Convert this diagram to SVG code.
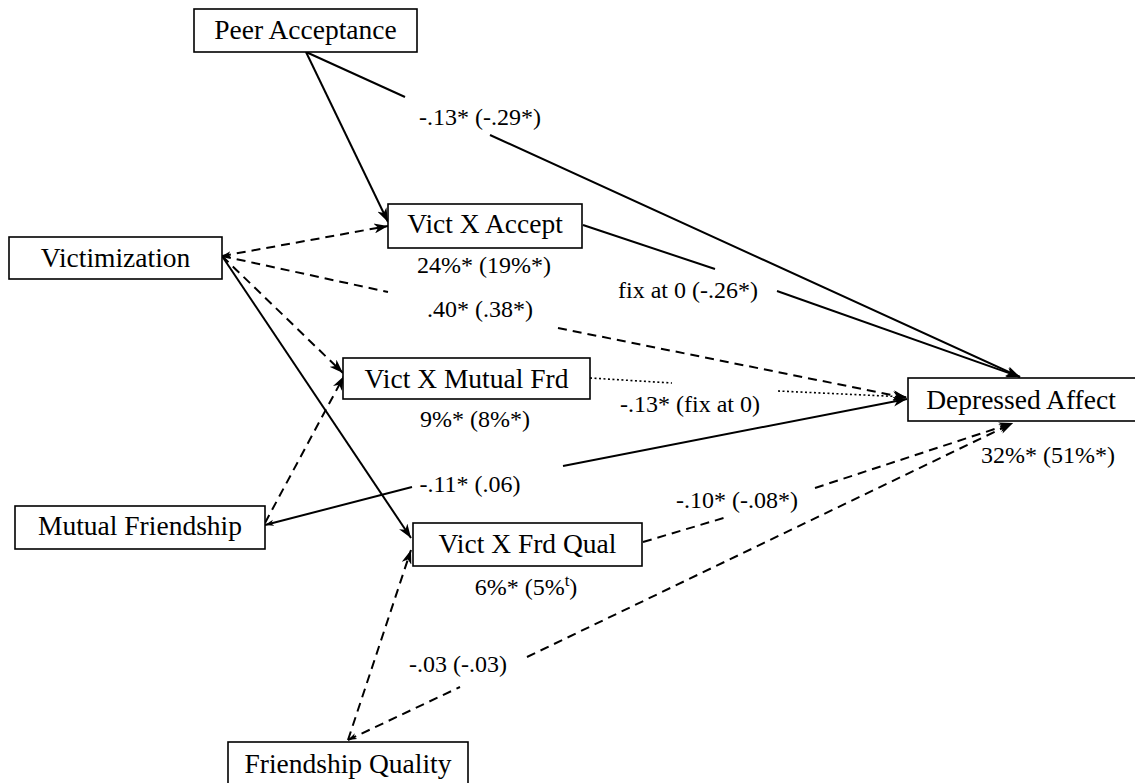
<svg xmlns="http://www.w3.org/2000/svg" width="1135" height="783" viewBox="0 0 1135 783">
<style>
.box{fill:#fff;stroke:#000;stroke-width:1.6}
.nt{font-family:"Liberation Serif","Times New Roman",serif;font-size:27.5px;fill:#000;text-anchor:middle}
.lb{font-family:"Liberation Serif","Times New Roman",serif;font-size:24px;fill:#000;text-anchor:middle}
.s{fill:none;stroke:#000;stroke-width:2}
.d{fill:none;stroke:#000;stroke-width:2;stroke-dasharray:9 6}
.o{fill:none;stroke:#000;stroke-width:1.6;stroke-dasharray:2 2.5}
</style>
<defs>
<marker id="arr" viewBox="0 0 14 10" refX="14" refY="5" markerWidth="14" markerHeight="10" markerUnits="userSpaceOnUse" orient="auto">
<path d="M0,0 L14,5 L0,10 L4,5 z" fill="#000"/>
</marker>
<marker id="arrS" viewBox="0 0 14 10" refX="14" refY="5" markerWidth="9" markerHeight="7" markerUnits="userSpaceOnUse" orient="auto-start-reverse">
<path d="M0,0 L14,5 L0,10 L4,5 z" fill="#000"/>
</marker>
</defs>
<g id="connectors">
<polyline class="s" points="306,52 405,97"/>
<polyline class="s" points="490,135 1020,377" marker-end="url(#arr)"/>
<polyline class="s" points="306,52 388,222" marker-end="url(#arr)"/>
<polyline class="s" points="583,225 715,269"/>
<polyline class="s" points="777,291 1020,377" marker-end="url(#arr)"/>
<polyline class="d" points="222,256 388,226" marker-start="url(#arrS)" marker-end="url(#arr)"/>
<polyline class="d" points="222,256 388,292"/>
<polyline class="d" points="558,328 907,398" marker-end="url(#arr)"/>
<polyline class="d" points="222,256 343,373" marker-end="url(#arr)"/>
<polyline class="s" points="222,256 411,538" marker-end="url(#arr)"/>
<polyline class="d" points="265,523 344,376" marker-end="url(#arr)"/>
<polyline class="s" points="265,525 412,487" marker-start="url(#arrS)"/>
<polyline class="s" points="563,466 907,399" marker-end="url(#arr)"/>
<polyline class="o" points="590,378 672,383"/>
<polyline class="o" points="778,391 907,397" marker-end="url(#arr)"/>
<polyline class="d" points="643,542 727,517"/>
<polyline class="d" points="815,488 1013,423" marker-end="url(#arr)"/>
<polyline class="d" points="348,740 411,550" marker-end="url(#arr)"/>
<polyline class="d" points="348,740 460,687" marker-start="url(#arrS)"/>
<polyline class="d" points="527,657 1013,423" marker-end="url(#arr)"/>
</g>
<g id="labels">
<text class="lb" x="480" y="125">-.13* (-.29*)</text>
<text class="lb" x="688" y="298">fix at 0 (-.26*)</text>
<text class="lb" x="480" y="317">.40* (.38*)</text>
<text class="lb" x="690" y="412">-.13* (fix at 0)</text>
<text class="lb" x="470" y="492">-.11* (.06)</text>
<text class="lb" x="737" y="508">-.10* (-.08*)</text>
<text class="lb" x="458" y="672">-.03 (-.03)</text>
</g>
<g id="peer-acceptance">
<rect class="box" x="194" y="9" width="223" height="43"/>
<text class="nt" x="305.5" y="39">Peer Acceptance</text>
</g>
<g id="victimization">
<rect class="box" x="9" y="237" width="213" height="42"/>
<text class="nt" x="115.5" y="267">Victimization</text>
</g>
<g id="vict-x-accept">
<rect class="box" x="388" y="204" width="194" height="44"/>
<text class="nt" x="485" y="233">Vict X Accept</text>
<text class="lb" x="484" y="273">24%* (19%*)</text>
</g>
<g id="vict-x-mutual-frd">
<rect class="box" x="343" y="358" width="247" height="41"/>
<text class="nt" x="466.5" y="388">Vict X Mutual Frd</text>
<text class="lb" x="475" y="427">9%* (8%*)</text>
</g>
<g id="vict-x-frd-qual">
<rect class="box" x="413" y="523" width="229" height="43"/>
<text class="nt" x="527.5" y="553">Vict X Frd Qual</text>
<text class="lb" x="526" y="595">6%* (5%<tspan font-size="17" dy="-9">t</tspan><tspan dy="9">)</tspan></text>
</g>
<g id="mutual-friendship">
<rect class="box" x="15" y="506" width="250" height="43"/>
<text class="nt" x="140" y="535">Mutual Friendship</text>
</g>
<g id="friendship-quality">
<rect class="box" x="228" y="742" width="240" height="44"/>
<text class="nt" x="348" y="773">Friendship Quality</text>
</g>
<g id="depressed-affect">
<rect class="box" x="908" y="378" width="240" height="43"/>
<text class="nt" x="1021" y="409">Depressed Affect</text>
<text class="lb" x="1048" y="463">32%* (51%*)</text>
</g>
</svg>
